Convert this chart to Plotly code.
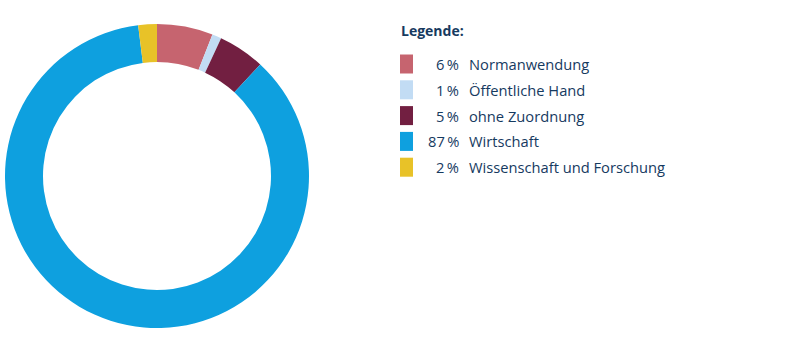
import plotly.graph_objects as go

categories = ["Normanwendung", "Öffentliche Hand", "ohne Zuordnung", "Wirtschaft", "Wissenschaft und Forschung"]
values = [6, 1, 5, 87, 2]
colors = ["#c6646f", "#c2dcf4", "#721f41", "#0ea0df", "#e8c228"]
legend_title = "Legende:"

W, H = 801, 351
TEXT = "#163a5f"
FONT = "Open Sans, Roboto, sans-serif"
FS = 14.7

fig = go.Figure(go.Pie(
    labels=categories, values=values, sort=False, direction="clockwise", rotation=0,
    hole=0.75, marker=dict(colors=colors, line=dict(width=0)),
    textinfo="none", hoverinfo="label+percent",
    domain=dict(x=[5 / W, 309 / W], y=[23 / H, 327 / H]),
))

def px(x):
    return x / W

def py(y):
    return 1 - y / H

annotations = [dict(text="<b>" + legend_title + "</b>", x=px(399), y=py(30), xref="paper", yref="paper",
                    xanchor="left", yanchor="middle", showarrow=False,
                    font=dict(family=FONT, size=14, color=TEXT))]
shapes = []
row0, step = 64, 25.8
for i, (c, v, col) in enumerate(zip(categories, values, colors)):
    yc = row0 + i * step
    shapes.append(dict(type="rect", xref="paper", yref="paper", x0=px(400), x1=px(413),
                       y0=py(yc - 9.5), y1=py(yc + 9.5), fillcolor=col, line=dict(width=0)))
    annotations.append(dict(text=f"{v}\u2009%", x=px(461), y=py(yc), xref="paper", yref="paper",
                            xanchor="right", yanchor="middle", showarrow=False,
                            font=dict(family=FONT, size=FS, color=TEXT)))
    annotations.append(dict(text=c, x=px(467), y=py(yc), xref="paper", yref="paper",
                            xanchor="left", yanchor="middle", showarrow=False,
                            font=dict(family=FONT, size=FS, color=TEXT)))

fig.update_layout(width=W, height=H, margin=dict(l=0, r=0, t=0, b=0), showlegend=False,
                  paper_bgcolor="white", plot_bgcolor="white",
                  annotations=annotations, shapes=shapes)
fig.write_html("out.html")
